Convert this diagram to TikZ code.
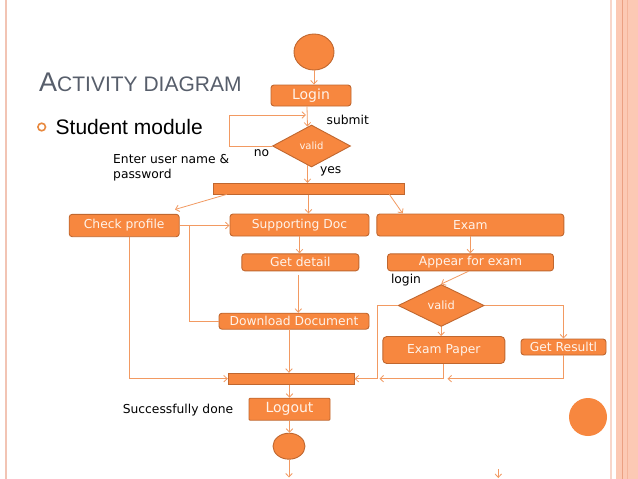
\documentclass[tikz,border=0pt]{standalone}
\usepackage{fontspec}
\setmainfont{DejaVu Sans}
\newfontfamily\titlefont{Liberation Sans}
\usetikzlibrary{shapes.geometric,arrows.meta,calc}
\definecolor{ofill}{HTML}{F7873F}
\definecolor{odraw}{HTML}{C0672F}
\definecolor{oline}{HTML}{F29A62}
\definecolor{otext}{HTML}{FFF3EA}
\definecolor{titlegray}{HTML}{575E6B}
\definecolor{bordA}{HTML}{F2C4B4}
\definecolor{bordB}{HTML}{F8D6CA}
\definecolor{bordC}{HTML}{FCC9B4}
\definecolor{bordD}{HTML}{EBA082}
\definecolor{bullet}{HTML}{E8893F}
\begin{document}
\begin{tikzpicture}[x=1pt,y=-1pt,
  act/.style={draw=odraw, line width=0.9pt, fill=ofill, rounded corners=3pt, text=otext, inner sep=0pt, font=\fontsize{12.3}{14}\selectfont},
  bar/.style={draw=odraw, line width=0.8pt, fill=ofill, inner sep=0pt},
  dec/.style={diamond, draw=odraw, line width=0.9pt, fill=ofill, text=otext, inner sep=0pt},
  terminal/.style={ellipse, draw=odraw, fill=ofill, line width=0.9pt, inner sep=0pt},
  arr/.style={draw=oline, line width=0.8pt, -{Straight Barb[length=3.5pt,width=6.5pt]}},
  ln/.style={draw=oline, line width=0.8pt},
  lbl/.style={inner sep=0pt, font=\fontsize{12.3}{15}\selectfont},
]
\useasboundingbox (0,0) rectangle (638,479);
\fill[white] (0,0) rectangle (638,479);
% slide border
\fill[bordA] (5,0) rectangle (7,479);
\fill[bordB] (609.5,0) rectangle (612,479);
\fill[bordC] (616,0) rectangle (638,479);
\fill[bordD] (621.5,0) rectangle (622.7,479);
\fill[bordD!50!bordC] (626.8,0) rectangle (627.6,479);
\fill[ofill] (588,417) circle[radius=19];

% title
\node[anchor=base west, inner sep=0pt, text=titlegray, font=\titlefont] (title) at (39,91)
  {{\fontsize{27}{27}\selectfont A}{\fontsize{21}{21}\selectfont CTIVITY DIAGRAM}};
\draw[bullet, line width=1.6pt] (41.7,127) circle[radius=3.8];
\node[anchor=base west, inner sep=0pt, font=\titlefont\fontsize{21}{21}\selectfont] (sm) at (55.5,134) {Student module};

% nodes
\node[terminal, minimum width=40pt, minimum height=36pt] (start) at (314,52) {};
\node[act, minimum width=80pt, minimum height=21pt, font=\fontsize{14}{16}\selectfont] (login) at (311,95.5) {Login};
\node[dec, minimum width=78pt, minimum height=42pt, font=\fontsize{10}{12}\selectfont] (d1) at (311.5,146) {valid};
\node[bar, minimum width=191pt, minimum height=11pt] (bar1) at (308.5,188.8) {};
\node[act, minimum width=110pt, minimum height=22.4pt] (check) at (124.2,225.5) {Check profile};
\node[act, minimum width=139pt, minimum height=22pt] (supp) at (299.5,225) {Supporting Doc};
\node[act, minimum width=187pt, minimum height=22pt] (exam) at (470.3,225) {Exam};
\node[act, minimum width=117pt, minimum height=17pt] (getd) at (300.3,262.3) {Get detail};
\node[act, minimum width=166pt, minimum height=17pt] (appear) at (470.5,262.3) {Appear for exam};
\node[act, minimum width=150pt, minimum height=16pt] (dl) at (294,321.2) {Download Document};
\node[dec, minimum width=86pt, minimum height=42pt, font=\fontsize{11.4}{13}\selectfont] (d2) at (441.2,305.5) {valid};
\node[act, minimum width=122pt, minimum height=27pt, rounded corners=4pt] (paper) at (443.8,350) {Exam Paper};
\node[act, minimum width=85pt, minimum height=16pt] (result) at (563.5,347) {Get Resultl};
\node[bar, minimum width=126pt, minimum height=11pt] (bar2) at (291.2,378.7) {};
\node[act, rounded corners=1pt, minimum width=81pt, minimum height=22pt, font=\fontsize{14}{16}\selectfont] (logout) at (289.5,409.2) {Logout};
\node[terminal, minimum width=32pt, minimum height=26pt] (endc) at (289,446.2) {};

% labels
\node[lbl, anchor=west] (submit) at (326.5,120) {submit};
\node[lbl] (no) at (261.5,153) {no};
\node[lbl] (yes) at (330.7,171) {yes};
\node[lbl, anchor=north west, align=left] (enter) at (113,154) {Enter user name \&\\password};
\node[lbl] (loginl) at (406,280.5) {login};
\node[lbl] (succ) at (178,410) {Successfully done};

% coordinates
\coordinate (lp1) at (229,146);
\coordinate (lp2) at (229,115);
\coordinate (lp3) at (306,115);
\coordinate (q1) at ($(d1.south)+(-4,-2)$);
\coordinate (b1l) at (227,194.3);
\coordinate (chk) at (175,209.5);
\coordinate (b1r) at (389.3,194.3);
\coordinate (exm) at (402.7,213.5);
\coordinate (br) at (189.3,225.5);
\coordinate (g1) at ($(getd.south)+(-2,3.5)$);
\coordinate (dlx) at (289,329.2);
\coordinate (c1) at (129.3,236.7);
\coordinate (lc) at (377.7,378.7);
\coordinate (pc) at (379.5,378.7);
\coordinate (rcc) at (447.5,378.7);
\coordinate (endb) at (289,477.5);
\coordinate (sa1) at (498.3,469);
\coordinate (sa2) at (498.3,478);

% connectors
\draw[arr] (start) -- (start |- login.north);
\draw[arr] ($(login.south)+(-4,0)$) -- ($(d1.north)+(-4,2)$);
\draw[arr] (d1.west) -- (lp1) -- (lp2) -- (lp3);
\draw[arr] (q1) -- (q1 |- bar1.north);
\draw[arr] (b1l) -- (chk);
\draw[arr] (bar1.south) -- (bar1.south |- supp.north);
\draw[arr] (b1r) -- (exm);
\draw[arr] (check.east) -- (check.east -| supp.west);
\draw[ln] (br) |- (dl.west);
\draw[arr] (supp.south) -- (supp.south |- getd.north);
\draw[arr] (g1) -- (g1 |- dl.north);
\draw[arr] (dlx) -- (dlx |- bar2.north);
\draw[arr] (c1) |- (bar2.west);
\draw[arr] (exam.south) -- (exam.south |- appear.north);
\draw[arr] ($(appear.south)+(-2,0)$) -- (d2.north);
\draw[arr] (d2.west) -| (lc) -- (bar2.east);
\draw[arr] (d2.east) -| (result.north);
\draw[arr] (d2.south) -- (d2.south |- paper.north);
\draw[arr] (paper.south) |- (pc);
\draw[arr] (result.south) |- (rcc);
\draw[arr] (logout.north |- bar2.south) -- (logout.north);
\draw[arr] (logout.south) -- (logout.south |- endc.north);
\draw[arr] (endc.south) -- (endb);
\draw[arr] (sa1) -- (sa2);
\end{tikzpicture}
\end{document}
